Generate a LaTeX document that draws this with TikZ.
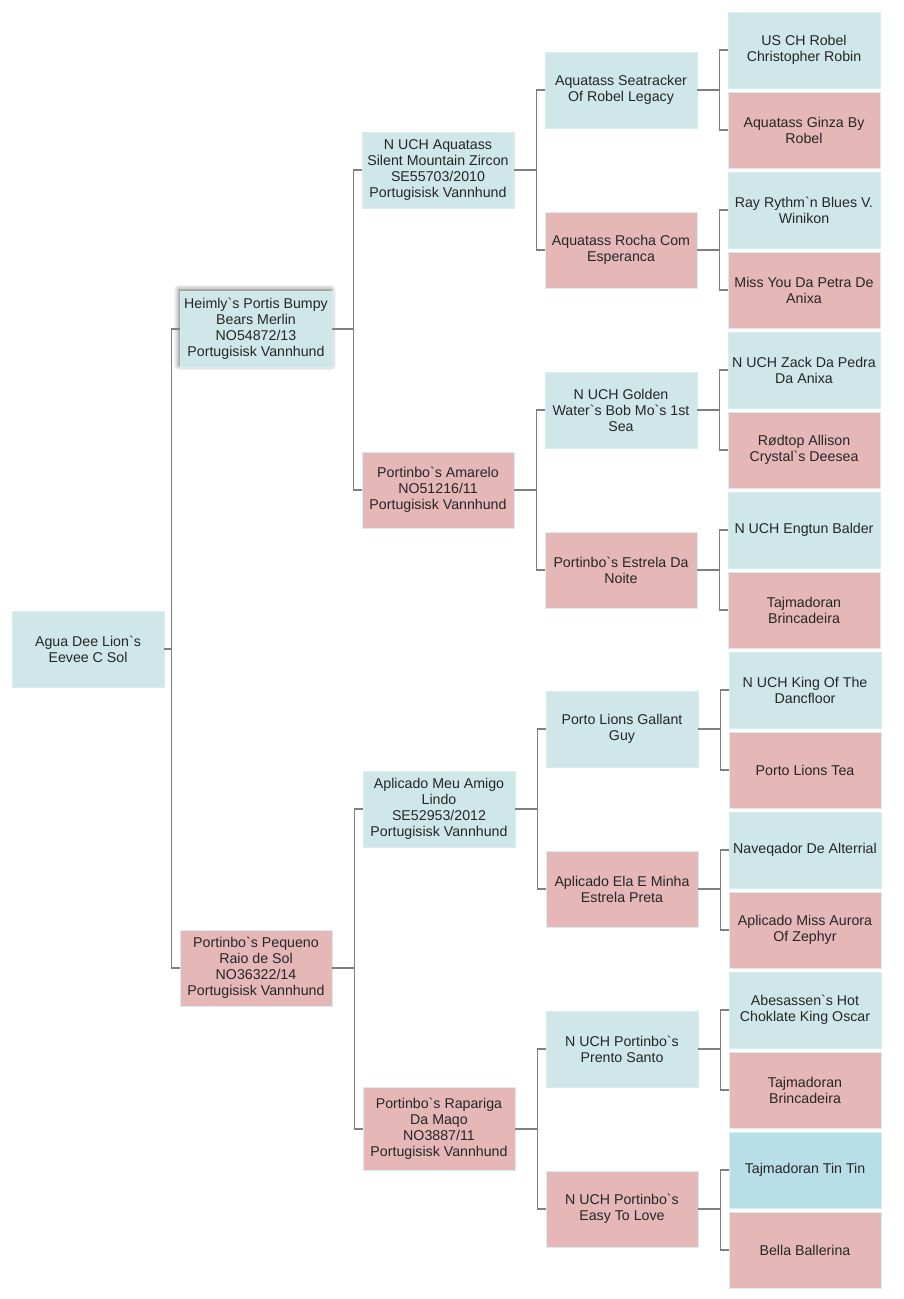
\documentclass[tikz,border=0pt]{standalone}
\usepackage{fontspec}
\setmainfont{Liberation Sans}
\usepackage{tikz}
\usetikzlibrary{shadows.blur}

\definecolor{sireblue}{HTML}{CFE7E9}
\definecolor{tinblue}{HTML}{B8DEE8}
\definecolor{dampink}{HTML}{E5B8B7}
\definecolor{boxedge}{HTML}{D8EDEF}
\definecolor{linkgray}{HTML}{808080}
\definecolor{txtgray}{HTML}{262626}

\newcommand{\bq}{\textasciigrave}

\begin{document}
\begin{tikzpicture}[x=1pt, y=-1pt,
    dog/.style={draw=boxedge, line width=0.8pt, minimum width=152pt, minimum height=76pt,
        inner sep=0pt, align=center, text=txtgray, font=\fontsize{14.2}{16}\selectfont},
    sire/.style={dog, fill=sireblue},
    dam/.style={dog, fill=dampink},
    link/.style={draw=linkgray, line width=1.1pt}]
		% 0. Page size (same as the reference)
		\useasboundingbox (0,0) rectangle (903,1299);

		% 1. The puppy
		\node[sire] (p) at (88,649) {Agua Dee Lion\bq s\\Eevee C Sol};

		% 2. Parents
		\node[sire, blur shadow={shadow xshift=-1pt, shadow yshift=1.5pt, shadow blur radius=5pt, shadow opacity=60}]
			(s) at (256,329) {Heimly\bq s Portis Bumpy\\Bears Merlin\\NO54872/13\\Portugisisk Vannhund};
		\node[dam] (d) at (256,968) {Portinbo\bq s Pequeno\\Raio de Sol\\NO36322/14\\Portugisisk Vannhund};

		% 3. Grandparents
		\node[sire] (ss) at (438,170) {N UCH Aquatass\\Silent Mountain Zircon\\SE55703/2010\\Portugisisk Vannhund};
		\node[dam] (sd) at (438,490) {Portinbo\bq s Amarelo\\NO51216/11\\Portugisisk Vannhund};
		\node[sire] (ds) at (439,809) {Aplicado Meu Amigo\\Lindo\\SE52953/2012\\Portugisisk Vannhund};
		\node[dam, minimum height=83pt] (dd) at (439,1129) {Portinbo\bq s Rapariga\\Da Maqo\\NO3887/11\\Portugisisk Vannhund};

		% 4. Great-grandparents
		\node[sire] (sss) at (621,90) {Aquatass Seatracker\\Of Robel Legacy};
		\node[dam] (ssd) at (621,250) {Aquatass Rocha Com\\Esperanca};
		\node[sire] (sds) at (621,410) {N UCH Golden\\Water\bq s Bob Mo\bq s 1st\\Sea};
		\node[dam] (sdd) at (621,570) {Portinbo\bq s Estrela Da\\Noite};
		\node[sire] (dss) at (622,729) {Porto Lions Gallant\\Guy};
		\node[dam] (dsd) at (622,889) {Aplicado Ela E Minha\\Estrela Preta};
		\node[sire] (dds) at (622,1049) {N UCH Portinbo\bq s\\Prento Santo};
		\node[dam] (ddd) at (622,1209) {N UCH Portinbo\bq s\\Easy To Love};

		% 5. Great-great-grandparents
		\node[sire] (ssss) at (804,50) {US CH Robel\\Christopher Robin};
		\node[dam] (sssd) at (804,130) {Aquatass Ginza By\\Robel};
		\node[sire] (ssds) at (804,210) {Ray Rythm\bq n Blues V.\\Winikon};
		\node[dam] (ssdd) at (804,290) {Miss You Da Petra De\\Anixa};
		\node[sire] (sdss) at (804,370) {N UCH Zack Da Pedra\\Da Anixa};
		\node[dam] (sdsd) at (804,450) {Rødtop Allison\\Crystal\bq s Deesea};
		\node[sire] (sdds) at (804,530) {N UCH Engtun Balder};
		\node[dam] (sddd) at (804,610) {Tajmadoran\\Brincadeira};
		\node[sire] (dsss) at (805,690) {N UCH King Of The\\Dancfloor};
		\node[dam] (dssd) at (805,770) {Porto Lions Tea};
		\node[sire] (dsds) at (805,850) {Naveqador De Alterrial};
		\node[dam] (dsdd) at (805,930) {Aplicado Miss Aurora\\Of Zephyr};
		\node[sire] (ddss) at (805,1010) {Abesassen\bq s Hot\\Choklate King Oscar};
		\node[dam] (ddsd) at (805,1090) {Tajmadoran\\Brincadeira};
		\node[sire, fill=tinblue] (ddds) at (805,1170) {Tajmadoran Tin Tin};
		\node[dam] (dddd) at (805,1250) {Bella Ballerina};

		% 6. Connectors (child -> elbow -> parent)
		\draw[link] (s.west) -- ++(-8,0) |- (p.east);
		\draw[link] (d.west) -- ++(-8,0) |- (p.east);
		\foreach \n in {s,d,ss,sd,ds,dd,sss,ssd,sds,sdd,dss,dsd,dds,ddd}{
			\draw[link] (\n s.west) -- ++(-8,0) |- (\n.east);
			\draw[link] (\n d.west) -- ++(-8,0) |- (\n.east);
		}
	\end{tikzpicture}
\end{document}
